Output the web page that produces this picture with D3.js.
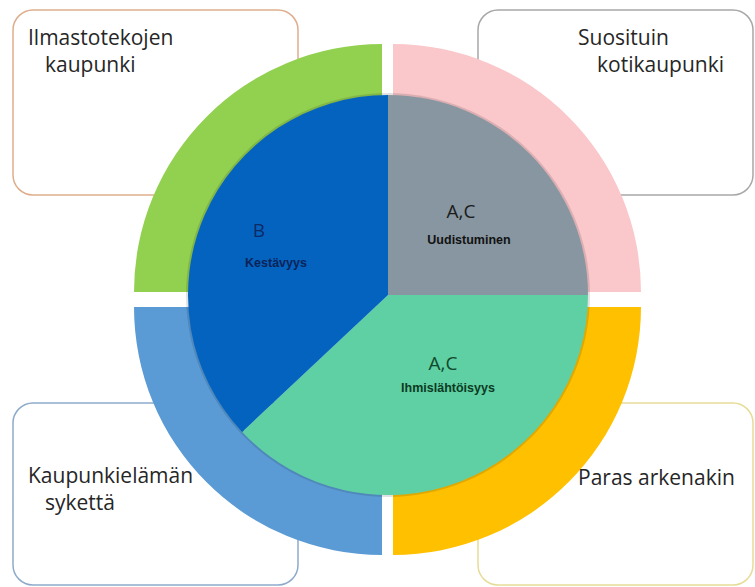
<!DOCTYPE html>
<html>
<head>
<meta charset="utf-8">
<script src="https://cdn.jsdelivr.net/npm/d3@7"></script>
<style>
  html, body { margin: 0; padding: 0; background: #fff; }
  svg { display: block; }
</style>
</head>
<body>
<svg width="755" height="587"></svg>
<script>
// inner pie
var segments = ['Uudistuminen', 'Ihmislähtöisyys', 'Kestävyys'];
var shares = [25, 38, 37];
var groups = ['A,C', 'A,C', 'B'];

// outer ring, clockwise from 12 o'clock
var themes = [
  ['Suosituin', 'kotikaupunki'],
  ['Paras arkenakin'],
  ['Kaupunkielämän', 'sykettä'],
  ['Ilmastotekojen', 'kaupunki']
];
var themeWeights = [1, 1, 1, 1];

(function() {
  'use strict';

  var svg = d3.select('svg');

  var cx = 388,
    cy = 295,
    pieRadius = 200,
    ringCx = 387.5,
    ringCy = 299.5,
    ringInner = 185,
    ringOuter = 248,
    gapX = 5.5,
    gapY = 7.5;

  var pieColors = d3.scaleOrdinal()
    .domain(segments)
    .range(['#8796a0', '#5fd0a4', '#0563c0']);

  var ringColors = d3.scaleOrdinal()
    .domain(d3.range(themes.length))
    .range(['#fac7cb', '#ffc000', '#5b9bd5', '#92d050']);

  // boxes behind the ring: top-right, bottom-right, bottom-left, top-left
  var boxes = [
    { x: 478, y: 10, w: 275, h: 185, stroke: '#a8a8a8', lines: [[578, 45], [597, 72]] },
    { x: 478, y: 403, w: 275, h: 182, stroke: '#e6dc98', lines: [[578, 485]] },
    { x: 13, y: 403, w: 285, h: 182, stroke: '#8eaacb', lines: [[28, 483], [45, 510]] },
    { x: 13, y: 10, w: 285, h: 185, stroke: '#deae8c', lines: [[28, 45], [45, 72]] }
  ];

  // label anchors inside the pie: [group dx, group dy, name dx, name dy]
  var labelSpots = [
    [73, -77, 81, -51],
    [55, 75, 60, 97],
    [-129, -58, -112, -28]
  ];
  var labelInk = [
    ['#1c1c1c', '#121212'],
    ['#0f4a2c', '#0c3a22'],
    ['#0c2a66', '#0a2358']
  ];

  svg.selectAll('.box')
    .data(boxes)
    .enter().append('rect')
    .attr('class', 'box')
    .attr('x', function(d) { return d.x; })
    .attr('y', function(d) { return d.y; })
    .attr('width', function(d) { return d.w; })
    .attr('height', function(d) { return d.h; })
    .attr('rx', 20)
    .attr('fill', '#fff')
    .attr('stroke', function(d) { return d.stroke; })
    .attr('stroke-width', 1.5);

  var ringPie = d3.pie().sort(null).value(function(d) { return d; });
  var ringArc = d3.arc().innerRadius(ringInner).outerRadius(ringOuter);

  svg.append('g')
    .attr('transform', 'translate(' + ringCx + ',' + ringCy + ')')
    .selectAll('path')
    .data(ringPie(themeWeights))
    .enter().append('path')
    .attr('d', ringArc)
    .attr('fill', function(d, i) { return ringColors(i); })
    .attr('transform', function(d) {
      var mid = (d.startAngle + d.endAngle) / 2;
      var dx = Math.sin(mid) > 0 ? gapX : -gapX;
      var dy = Math.cos(mid) > 0 ? -gapY : gapY;
      return 'translate(' + dx + ',' + dy + ')';
    });

  var pieG = svg.append('g')
    .attr('transform', 'translate(' + cx + ',' + cy + ')');

  // soft rim round the pie
  pieG.append('circle')
    .attr('r', pieRadius + 2)
    .attr('fill', 'rgba(0,0,0,0.12)');

  var pie = d3.pie().sort(null).value(function(d) { return d; });
  var arc = d3.arc().innerRadius(0).outerRadius(pieRadius);

  pieG.selectAll('.slice')
    .data(pie(shares))
    .enter().append('path')
    .attr('class', 'slice')
    .attr('d', arc)
    .attr('fill', function(d, i) { return pieColors(segments[i]); });

  segments.forEach(function(name, i) {
    var spot = labelSpots[i];

    pieG.append('text')
      .attr('x', spot[0])
      .attr('y', spot[1])
      .attr('text-anchor', 'middle')
      .style('font-family', '"Open Sans", sans-serif')
      .style('font-size', '19px')
      .attr('fill', labelInk[i][0])
      .text(groups[i]);

    pieG.append('text')
      .attr('x', spot[2])
      .attr('y', spot[3])
      .attr('text-anchor', 'middle')
      .style('font-family', '"Liberation Sans", Arial, sans-serif')
      .style('font-size', '12.5px')
      .style('font-weight', 'bold')
      .attr('fill', labelInk[i][1])
      .text(name);
  });

  boxes.forEach(function(box, i) {
    themes[i].forEach(function(line, j) {
      svg.append('text')
        .attr('x', box.lines[j][0])
        .attr('y', box.lines[j][1])
        .style('font-family', '"Open Sans", sans-serif')
        .style('font-size', '21px')
        .attr('fill', '#262626')
        .text(line);
    });
  });
})();
</script>
</body>
</html>
